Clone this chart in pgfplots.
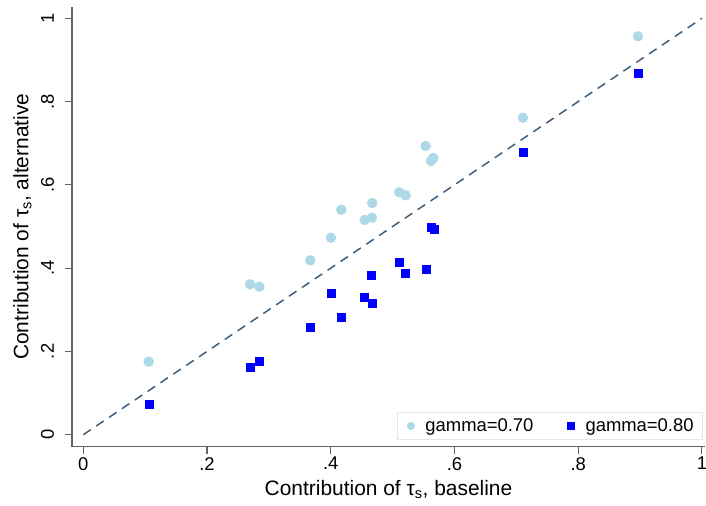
\documentclass[border=0pt]{standalone}
\usepackage{fontspec}
\setmainfont{Liberation Sans}
\usepackage{pgfplots}
\pgfplotsset{compat=1.18}
\definecolor{lblue}{RGB}{173,216,230}
\definecolor{fitcol}{RGB}{62,94,122}
\definecolor{axcol}{RGB}{100,100,100}
\begin{document}
\begin{tikzpicture}
\begin{axis}[
  name=ax,
  scale only axis,
  width=633bp, height=440bp,
  xmin=-0.0183, xmax=1.005,
  ymin=-0.0288, ymax=1.0279,
  axis lines*=left,
  axis line style={axcol, line width=1.2bp},
  every tick/.style={axcol, line width=1.1bp},
  tick align=outside,
  major tick length=7bp,
  xtick={0,0.2,0.4,0.6,0.8,1},
  xticklabels={0,.2,.4,.6,.8,1},
  ytick={0,0.2,0.4,0.6,0.8,1},
  yticklabels={0,.2,.4,.6,.8,1},
  tick label style={font=\fontsize{18.5}{21}\selectfont},
  yticklabel style={rotate=90, anchor=south, yshift=7.5bp},
  xticklabel style={yshift=0bp},
  label style={font=\fontsize{21}{24}\selectfont},
  xlabel={Contribution of τ\textsubscript{s}, baseline},
  ylabel={Contribution of τ\textsubscript{s}, alternative},
  xlabel style={yshift=-3bp},
  ylabel style={yshift=2.5bp},
  legend columns=2,
  legend style={
    at={(1,0)}, anchor=south east, yshift=6.7bp, xshift=-2bp,
    draw=black!10, line width=0.8bp,
    font=\fontsize{18.5}{21}\selectfont,
    inner xsep=9bp, inner ysep=5bp,
    nodes={inner xsep=0bp, inner ysep=1.5bp},
    /tikz/every even column/.append style={column sep=33bp},
  },
  legend cell align=left,
  legend image code/.code={\path[draw=none,fill=none] (0bp,0bp) rectangle (19bp,0bp); \draw[#1, mark size=3.6bp] plot coordinates {(4.5bp,0bp)};},
]
\addplot[fitcol, line width=1.5bp, dash pattern=on 9bp off 6.5bp, forget plot] coordinates {(0,0) (1,1)};
\addplot[only marks, mark=*, mark size=5bp, color=lblue, fill=lblue] coordinates {
(0.1057,0.1753)
(0.2694,0.3612)
(0.2845,0.3554)
(0.3669,0.4188)
(0.4004,0.4731)
(0.4170,0.5403)
(0.4548,0.5156)
(0.4666,0.5211)
(0.4671,0.5564)
(0.5107,0.5821)
(0.5211,0.5749)
(0.5534,0.6933)
(0.5620,0.6573)
(0.5657,0.6645)
(0.7107,0.7613)
(0.8966,0.9568)
};
\addlegendentry{gamma=0.70}
\addplot[only marks, mark=square*, mark size=4bp, color=blue, fill=blue] coordinates {
(0.1057,0.0737)
(0.2694,0.1633)
(0.2845,0.1770)
(0.3669,0.2586)
(0.4004,0.3396)
(0.4170,0.2834)
(0.4548,0.3314)
(0.4671,0.3170)
(0.4661,0.3835)
(0.5114,0.4147)
(0.5211,0.3876)
(0.5539,0.3963)
(0.5625,0.4995)
(0.5680,0.4933)
(0.7107,0.6796)
(0.8966,0.8670)
};
\addlegendentry{gamma=0.80}
\end{axis}
\pgfresetboundingbox
\path[use as bounding box] ([shift={(-72bp,-59.3bp)}]ax.south west) rectangle ([shift={(1bp,6.7bp)}]ax.north east);
\end{tikzpicture}
\end{document}
